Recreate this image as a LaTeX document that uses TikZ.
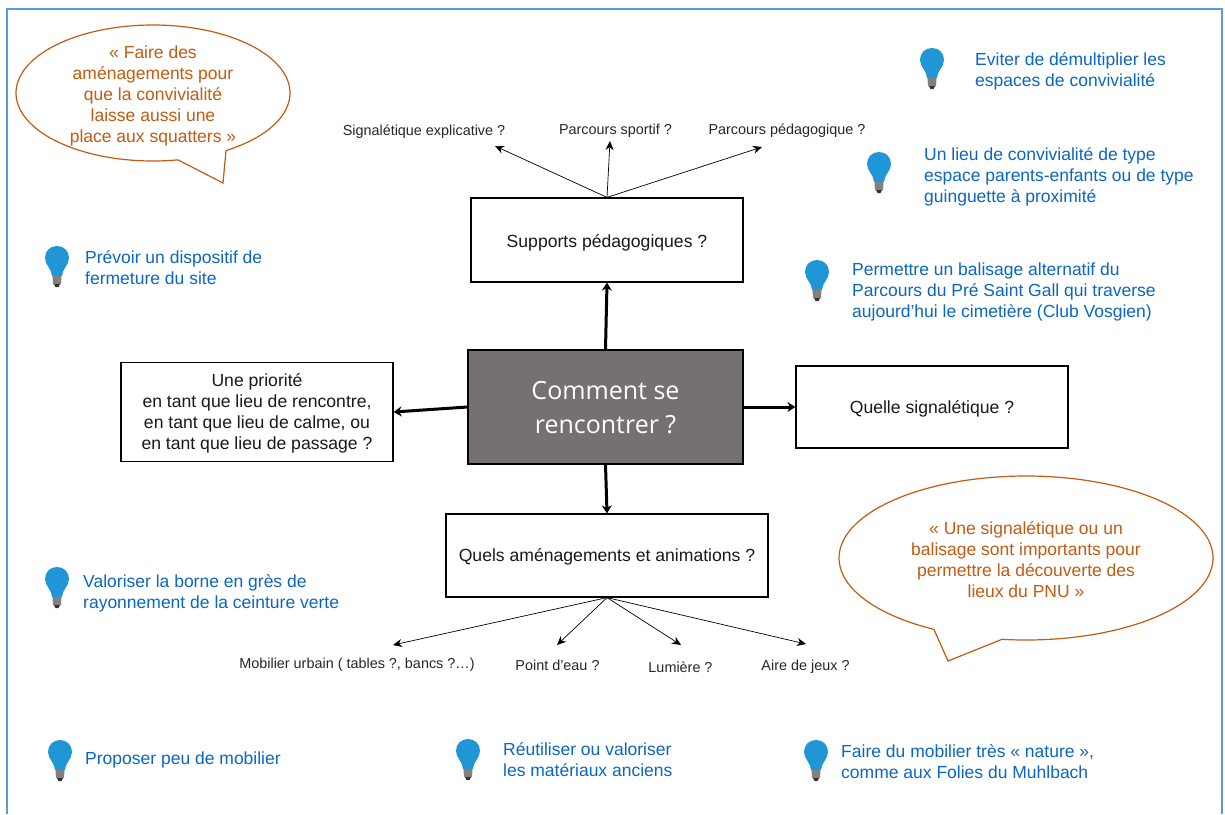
\documentclass[tikz,border=0pt]{standalone}
\usepackage{fontspec}
\setmainfont{Liberation Sans}
\newfontfamily\titlefont{Open Sans}
\usetikzlibrary{arrows.meta}
\definecolor{frameblue}{HTML}{5B9BD5}
\definecolor{quoteorange}{HTML}{C55A11}
\definecolor{ideablue}{HTML}{0A66C2}
\definecolor{bulbblue}{HTML}{2196D6}
\definecolor{centergray}{HTML}{767171}
\newcommand{\lowered}[2]{\raisebox{-#1pt}[\height][\depth]{#2}}
\tikzset{
  x=1pt,y=-1pt,
  box/.style={draw=black,line width=1.2pt,fill=white,inner sep=0pt,align=center,font=\fontsize{17.6}{21}\selectfont,text=black!90},
  bigarrow/.style={draw=black,line width=3pt,-{Stealth[length=8pt,width=10pt]}},
  thinarrow/.style={draw=black,line width=.7pt,-{Stealth[length=9pt,width=8pt]}},
  smalllabel/.style={font=\fontsize{14.4}{16}\selectfont,text=black!85,inner sep=0pt},
  idea/.style={anchor=west,align=left,inner sep=0pt,text=ideablue,font=\fontsize{17.5}{21}\selectfont},
  quote/.style={align=center,inner sep=0pt,text=quoteorange,font=\fontsize{17.5}{21}\selectfont},
  bubble/.style={draw=quoteorange,line width=1.2pt,fill=white,line join=miter},
  bulb/.pic={
    \fill[bulbblue] (0,-21) .. controls (7,-21) and (12,-16) .. (12,-9)
      .. controls (12,-2) and (5,2) .. (5,9) -- (-5,9)
      .. controls (-5,2) and (-12,-2) .. (-12,-9)
      .. controls (-12,-16) and (-7,-21) .. (0,-21) -- cycle;
    \fill[black!50] (-4.5,9) -- (4.5,9) -- (4,17) -- (-4,17) -- cycle;
    \fill[black!80] (-3,17) -- (3,17) -- (1.5,20) -- (-1.5,20) -- cycle;
  }
}
\begin{document}
\begin{tikzpicture}
\useasboundingbox (0,0) rectangle (1225,814);
% frame
\draw[frameblue,line width=1.5pt] (7,814) -- (7,9) -- (1222,9) -- (1222,814);

% boxes
\node[draw=black,line width=1.2pt,fill=centergray,minimum width=275,minimum height=114,inner sep=0pt,align=center,text=white,font=\titlefont\fontsize{25}{34}\selectfont] (center) at (605.5,407) {\lowered{1}{Comment se}\\\lowered{1}{rencontrer ?}};
\node[box,minimum width=272,minimum height=84] (supports) at (607,240) {\lowered{3}{Supports pédagogiques ?}};
\node[box,minimum width=272,minimum height=99] (priority) at (257,412) {\lowered{1}{Une priorité}\\\lowered{1}{en tant que lieu de rencontre,}\\\lowered{1}{en tant que lieu de calme, ou}\\\lowered{1}{en tant que lieu de passage ?}};
\node[box,minimum width=272,minimum height=82] (signage) at (932,407) {\lowered{2}{Quelle signalétique ?}};
\node[box,minimum width=322,minimum height=83] (layout) at (607,555.5) {\lowered{1}{Quels aménagements et animations ?}};

% main arrows
\draw[bigarrow] (center.north) -- (supports.south);
\draw[bigarrow] (center.west) -- (priority.east);
\draw[bigarrow] (center.east) -- (signage.west);
\draw[bigarrow] (center.south) -- (layout.north);

% upper labels
\node[smalllabel] (lab1) at (424,132) {Signalétique explicative ?};
\node[smalllabel] (lab2) at (615.5,131) {Parcours sportif ?};
\node[smalllabel] (lab3) at (787,131) {Parcours pédagogique ?};
\coordinate (end1) at (495,146);
\coordinate (end2) at (610,141);
\coordinate (end3) at (762,147);
\draw[thinarrow] (supports.north) -- (end1);
\draw[thinarrow] (supports.north) -- (end2);
\draw[thinarrow] (supports.north) -- (end3);

% lower labels
\node[smalllabel] (lab4) at (357,665) {Mobilier urbain ( tables ?, bancs ?…)};
\node[smalllabel] (lab5) at (557.5,665) {Point d’eau ?};
\node[smalllabel] (lab6) at (680.5,667) {Lumière ?};
\node[smalllabel] (lab7) at (805.5,667) {Aire de jeux ?};
\coordinate (end4) at (393,645);
\coordinate (end5) at (557,645);
\coordinate (end6) at (681,645);
\coordinate (end7) at (806,644);
\draw[thinarrow] (layout.south) -- (end4);
\draw[thinarrow] (layout.south) -- (end5);
\draw[thinarrow] (layout.south) -- (end6);
\draw[thinarrow] (layout.south) -- (end7);

% speech bubbles
\draw[bubble] plot[domain=79.5:417.8,samples=120,smooth] ({153+137*cos(\x)},{93+68*sin(\x)}) -- (223,183) -- cycle;
\node[quote] (quote1) at (153,96) {« Faire des\\aménagements pour\\que la convivialité\\laisse aussi une\\place aux squatters »};
\draw[bubble] plot[domain=119.5:457.4,samples=120,smooth] ({1026+187*cos(\x)},{558+82*sin(\x)}) -- (948,661) -- cycle;
\node[quote] (quote2) at (1026,560) {« Une signalétique ou un\\balisage sont importants pour\\permettre la découverte des\\lieux du PNU »};

% ideas
\pic at (932,69) {bulb};
\node[idea] (idea1) at (975,71) {Eviter de démultiplier les\\espaces de convivialité};
\pic at (879,173) {bulb};
\node[idea] (idea2) at (924,176.5) {Un lieu de convivialité de type\\espace parents-enfants ou de type\\guinguette à proximité};
\pic at (817,281) {bulb};
\node[idea] (idea3) at (852,291.5) {Permettre un balisage alternatif du\\Parcours du Pré Saint Gall qui traverse\\aujourd’hui le cimetière (Club Vosgien)};
\pic at (57,267) {bulb};
\node[idea] (idea4) at (85,268) {Prévoir un dispositif de\\fermeture du site};
\pic at (57,588) {bulb};
\node[idea] (idea5) at (83,593.5) {Valoriser la borne en grès de\\rayonnement de la ceinture verte};
\pic at (60,761) {bulb};
\node[idea] (idea6) at (85,759.5) {Proposer peu de mobilier};
\pic at (468,760) {bulb};
\node[idea] (idea7) at (503,759.5) {Réutiliser ou valoriser\\les matériaux anciens};
\pic at (816,761) {bulb};
\node[idea] (idea8) at (841,762) {Faire du mobilier très « nature »,\\comme aux Folies du Muhlbach};
\end{tikzpicture}
\end{document}
